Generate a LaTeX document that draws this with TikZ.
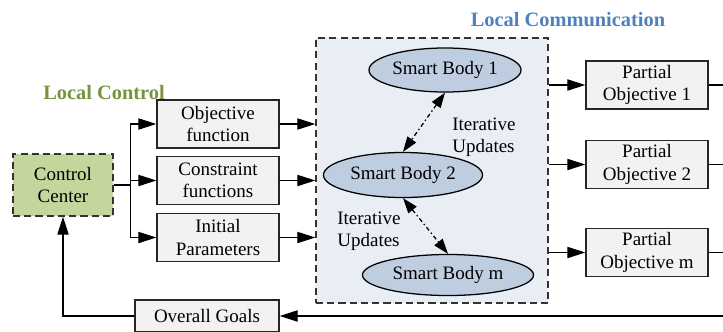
\documentclass[tikz,border=0pt]{standalone}
\usepackage{fontspec}
\setmainfont{Liberation Serif}
\usetikzlibrary{positioning,shapes.geometric,arrows.meta}

\definecolor{verdecentro}{RGB}{195,214,155}
\definecolor{verdetitolo}{RGB}{119,147,60}
\definecolor{blutitolo}{RGB}{79,129,189}
\definecolor{fondogruppo}{RGB}{233,237,244}
\definecolor{bluellisse}{RGB}{191,205,225}
\definecolor{grigioscatola}{RGB}{242,242,242}

\begin{document}
\begin{tikzpicture}[x=0.025cm,y=-0.025cm,font=\fontsize{13.5}{16}\selectfont,line width=0.9pt]
% definizione delle scatole rettangolari
\tikzset{mybox/.style={rectangle,draw=black!85,fill=grigioscatola,align=center,minimum width=3.05cm,minimum height=1.2cm,inner sep=1pt}}
% definizione degli ellissi dei corpi
\tikzset{mybody/.style={ellipse,draw,fill=bluellisse,inner sep=0pt}}
% frecce piene
\tikzset{myarrow/.style={-{Triangle[length=4.5mm,width=2.8mm]}}}
\tikzset{mydoublearrow/.style={{Triangle[length=3.8mm,width=2.6mm]}-{Triangle[length=3.8mm,width=2.6mm]},dash pattern=on 3pt off 2pt on 1pt off 2pt}}
% titoli in grassetto
\tikzset{mytitle/.style={font=\fontsize{14.5}{16}\selectfont\bfseries}}

\useasboundingbox (0,0) rectangle (723,331);

%----
% titoli
\node[mytitle,text=verdetitolo] (tcontrollo) at (104,93) {Local Control};
\node[mytitle,text=blutitolo] (tcomunicazione) at (568,20) {Local Communication};

% centro di controllo
\node[rectangle,draw=black!80,dash pattern=on 5pt off 3pt,fill=verdecentro,align=center,minimum width=2.5cm,minimum height=1.55cm] (cc) at (63,185) {Control\\Center};

% inserimento scatole di ingresso
\foreach \nome/\y/\testo in {obj/124/{Objective\\function},cons/180.5/{Constraint\\functions},init/237.5/{Initial\\Parameters}}
\node[mybox] (\nome) at (218,\y) {\testo};

% gruppo tratteggiato dei corpi
\node[rectangle,draw=black!80,dash pattern=on 5pt off 3pt,fill=fondogruppo,minimum width=5.8cm,minimum height=6.625cm] (gruppo) at (432,170.5) {};

% inserimento corpi
\node[mybody,minimum width=3.8cm,minimum height=1.1cm] (sb1) at (445,70) {Smart Body 1};
\node[mybody,minimum width=3.975cm,minimum height=1.125cm] (sb2) at (403,175) {Smart Body 2};
\node[mybody,minimum width=4.275cm,minimum height=1.025cm] (sbm) at (448,275) {Smart Body m};

% etichette aggiornamenti
\node[align=left] (iter1) at (484,137) {Iterative\\Updates};
\node[align=left] (iter2) at (369,231) {Iterative\\Updates};

% inserimento obiettivi parziali
\foreach \nome/\y/\testo in {po1/85/{Partial\\Objective 1},po2/164.5/{Partial\\Objective 2},pom/252.5/{Partial\\Objective m}}
\node[mybox] (\nome) at (647,\y) {\testo};

% obiettivi globali
\node[mybox,minimum width=3.6cm,minimum height=0.8cm] (og) at (207,316) {Overall Goals};

%----
% diramazione dal centro di controllo
\draw (cc.east) -- ++(17,0) coordinate (ramo);
\foreach \nome in {obj,cons,init}
\draw[myarrow] (ramo) |- (\nome.west);
\foreach \nome in {obj,cons,init}
\draw[myarrow] (\nome.east) -- (\nome.east -| gruppo.west);

% aggiornamenti iterativi tra i corpi
\draw[mydoublearrow] (sb1.south) -- (sb2.north);
\draw[mydoublearrow] (sb2.south) -- (sbm.north);

% uscite verso gli obiettivi parziali
\coordinate (bordo) at (730,0);
\foreach \nome in {po1,po2,pom}
\draw[myarrow] (\nome.west -| gruppo.east) -- (\nome.west);
\foreach \nome in {po1,po2,pom}
\draw (\nome.east) -- (\nome.east -| bordo);

% ritorno al centro di controllo
\draw[myarrow] (bordo |- og) -- (og.east);
\draw[myarrow] (og.west) -| (cc.south);
\end{tikzpicture}
\end{document}
